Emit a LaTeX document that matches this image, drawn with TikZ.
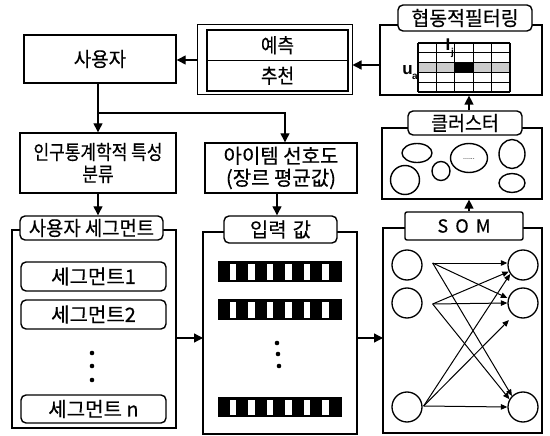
\documentclass[tikz,border=0pt]{standalone}
\usepackage{fontspec}
\setmainfont{Noto Sans CJK KR}[FakeBold=0.4]
\newfontfamily\latinf{Liberation Sans}
\usetikzlibrary{arrows.meta,calc}
\newcommand\hsq[2]{\scalebox{#1}[1]{#2}}
\begin{document}
\begin{tikzpicture}[x=1pt,y=-1pt,
  box/.style={draw, line width=1.4pt, inner sep=0pt, align=center},
  rbox/.style={box, rounded corners=5pt, fill=white},
  frame/.style={draw, line width=1.2pt},
  arr/.style={-{Triangle[length=9pt,width=9pt]}, line width=1.3pt},
  sarr/.style={-{Triangle[length=6.5pt,width=5.5pt]}, line width=1pt},
  unit/.style={circle, draw, line width=1.3pt, minimum size=30pt, inner sep=0pt},
  blob/.style={line width=1.4pt},
  ft/.style={font=\fontsize{20}{22}\selectfont}]
\useasboundingbox (0,0) rectangle (550,436);

% --- user
\node[box, minimum width=152pt, minimum height=48pt, ft] (user) at (100,59) {\hsq{0.95}{사용자}};

% --- prediction / recommendation
\node[frame, line width=1pt, minimum width=155pt, minimum height=70pt, inner sep=0pt] (pred) at (274.5,60) {};
\node[box, minimum width=141pt, minimum height=30.5pt, ft] (yc) at (277.5,45.25) {\hsq{0.9}{예측}};
\node[box, minimum width=141pt, minimum height=30.5pt, ft] (cc) at (277.5,75.75) {\hsq{0.9}{추천}};

% --- collaborative filtering
\node[frame, minimum width=162pt, minimum height=70pt, inner sep=0pt] (cf) at (461,60) {};
\node[rbox, minimum width=134pt, minimum height=26pt, ft] (cflab) at (465,18) {\hsq{0.97}{협동적필터링}};
\fill[gray!40] (418,62.6) rectangle (510,72.4);
\fill[black] (454.8,62.6) rectangle (473.2,72.4);
\foreach \i in {0,...,5} \draw[line width=1.3pt] (418+18.4*\i,43) -- (418+18.4*\i,92);
\foreach \j in {0,...,5} \draw[line width=1.3pt] (418,43+9.8*\j) -- (510,43+9.8*\j);
\node[font=\latinf\bfseries\fontsize{17}{17}\selectfont, inner sep=0pt] (ij) at (448,45) {I};
\node[font=\latinf\bfseries\fontsize{10}{10}\selectfont, inner sep=0pt] (ijs) at (452.5,53) {j};
\node[font=\latinf\bfseries\fontsize{17}{17}\selectfont, inner sep=0pt] (ua) at (407.5,70) {u};
\node[font=\latinf\bfseries\fontsize{10}{10}\selectfont, inner sep=0pt] (uas) at (415,77) {a};

% --- cluster
\node[frame, minimum width=160pt, minimum height=71pt, inner sep=0pt] (clout) at (462,163.5) {};
\node[rbox, minimum width=114pt, minimum height=24pt, ft] (cllab) at (465,123) {\hsq{0.92}{클러스터}};
\draw[blob] (417,153) ellipse [x radius=15pt, y radius=9.5pt];
\draw[blob] (405,180) ellipse [x radius=14.5pt, y radius=14.5pt];
\draw[blob] (441,171) ellipse [x radius=9pt, y radius=9.5pt];
\draw[blob] (469,158) ellipse [x radius=18.5pt, y radius=14.5pt];
\node[font=\latinf\fontsize{7}{7}\selectfont, inner sep=0pt] (dots) at (469,159) {......};
\draw[blob] (512,154) ellipse [x radius=13pt, y radius=14.5pt];
\draw[blob] (512,183) ellipse [x radius=13pt, y radius=9.5pt];

% --- SOM
\node[frame, minimum width=159pt, minimum height=205pt, inner sep=0pt] (som) at (462.5,330.5) {};
\node[rbox, rounded corners=2pt, minimum width=118pt, minimum height=28pt, font=\fontsize{18}{20}\selectfont] (somlab) at (464,226) {S\hspace{0.4em}O\hspace{0.4em}M};
\node[unit] (l1) at (407,265) {};
\node[unit] (l2) at (407,303) {};
\node[unit] (l3) at (407,407) {};
\node[unit] (r1) at (523,265) {};
\node[unit] (r2) at (523,303) {};
\node[unit] (r3) at (523,407) {};
\coordinate (A) at ($(l1.east)+(10,-2)$);
\coordinate (B) at ($(l2.east)+(10,1)$);
\coordinate (C) at ($(l3.east)+(1,-1)$);
\draw[sarr] (A) -- ($(r1.west)+(0,-2)$);
\draw[sarr] (A) -- ($(r2.west)+(0,-5)$);
\draw[sarr] (A) -- (r3.north west);
\draw[sarr] (B) -- (r1.205);
\draw[sarr] (B) -- (r2.west);
\draw[sarr] (B) -- (r3.150);
\draw[sarr] (C) -- (r1.215);
\draw[sarr] (C) -- ($(r2.south west)+(-3,6)$);
\draw[sarr] (C) -- (r3.west);

% --- demographic
\node[box, minimum width=156pt, minimum height=60pt, ft] (demo) at (98,163) {\hsq{0.85}{인구통계학적 특성}\\\hsq{0.85}{분류}};
\node[box, minimum width=152pt, minimum height=50pt, ft] (item) at (281,168) {아이템 선호도\\(장르 평균값)};

% --- user segments
\draw[frame] (12,230) rectangle (176,428);
\node[rbox, minimum width=143pt, minimum height=24pt, ft] (seglab) at (91.5,228) {\hsq{0.94}{사용자 세그먼트}};
\node[rbox, minimum width=145pt, minimum height=29pt, ft] (s1) at (93.5,276.5) {세그먼트1};
\node[rbox, minimum width=145pt, minimum height=29pt, ft] (s2) at (93.5,314.5) {세그먼트2};
\node[rbox, minimum width=145pt, minimum height=28pt, ft] (sn) at (93.5,409) {세그먼트 n};
\foreach \y in {353,366,380} \fill (92,\y) circle (2.3pt);
\coordinate (segR) at (176,338);

% --- input values
\draw[frame] (203,232) rectangle (357,434);
\node[rbox, minimum width=113pt, minimum height=27pt, ft] (inlab) at (280.5,229.5) {입력\hspace{0.3em}값};
\foreach \yt/\yb in {261/282, 299/320, 397/417} {
  \fill (218,\yt) rectangle (342,\yb);
  \foreach \k in {0,...,5} \fill[white] (229.7+18.5*\k,\yt+2.5) rectangle (236.2+18.5*\k,\yb-2.5);
}
\fill (277,343) circle (2.3pt);
\fill (278,354) circle (2.3pt);
\fill (279,366) circle (2.3pt);
\coordinate (inL) at (203,338);
\coordinate (inR) at (357,338);
\coordinate (somL) at (383,338);

% --- connectors
\draw[arr] (pred.west |- 0,60) -- (user.east |- 0,60);
\draw[arr] (cf.west |- 0,65) -- (pred.east |- 0,65);
\draw[arr] (demo.north |- user.south) -- (demo.north);
\coordinate (br) at (98,113);
\draw[arr] (br) -| ($(item.north)+(4,0)$);
\draw[arr] (demo.south) -- (seglab.north -| demo.south);
\draw[arr] ($(item.south)+(-4,0)$) -- ($(inlab.north)+(-3.5,0)$);
\draw[arr] (segR) -- (inL);
\draw[arr] (inR) -- (somL);
\draw[arr] ([xshift=5pt]somlab.north) -- ([xshift=5pt]somlab.north |- clout.south);
\draw[arr] ([xshift=4pt]cllab.north) -- ([xshift=4pt]cllab.north |- cf.south);
\end{tikzpicture}
\end{document}
